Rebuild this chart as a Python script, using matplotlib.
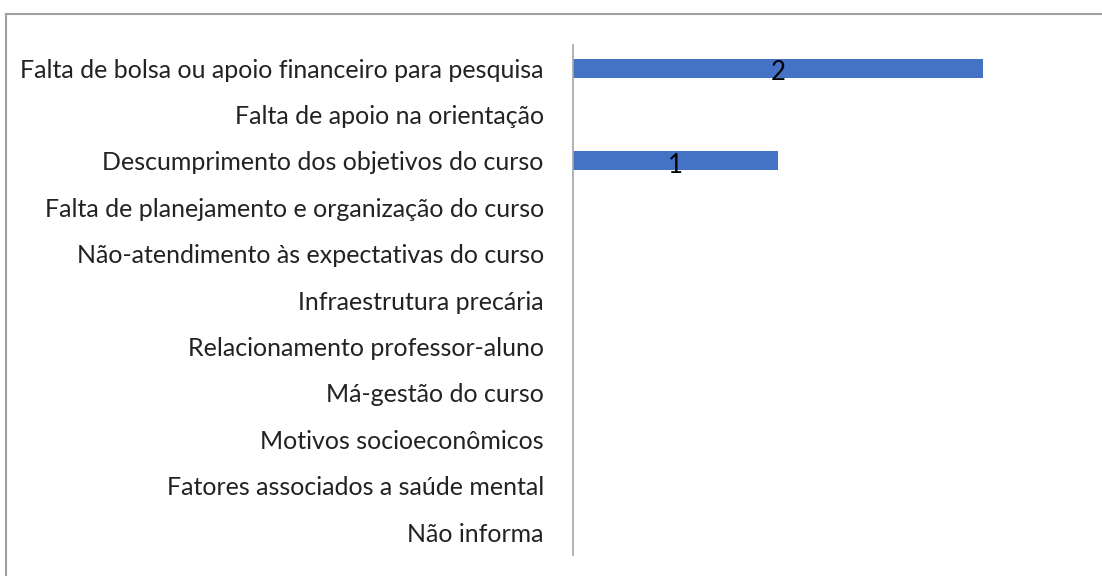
import matplotlib.pyplot as plt
from matplotlib.lines import Line2D

motivos = [
    "Falta de bolsa ou apoio financeiro para pesquisa",
    "Falta de apoio na orientação",
    "Descumprimento dos objetivos do curso",
    "Falta de planejamento e organização do curso",
    "Não-atendimento às expectativas do curso",
    "Infraestrutura precária",
    "Relacionamento professor-aluno",
    "Má-gestão do curso",
    "Motivos socioeconômicos",
    "Fatores associados a saúde mental",
    "Não informa",
]
respostas = [2, 0, 1, 0, 0, 0, 0, 0, 0, 0, 0]

plt.rcParams['font.family'] = ['Lato', 'DejaVu Sans']

fig = plt.figure(figsize=(11.02, 5.76), dpi=100)
ax = fig.add_axes([0.52, 0.036, 0.465, 0.886])

pos = list(range(len(motivos)))
bars = ax.barh(pos, respostas, height=0.41, color='#4472C4')
ax.set_ylim(len(motivos) - 0.5, -0.5)
ax.set_xlim(0, 2.5)

# rótulos de valor no centro de cada barra, um pouco abaixo do meio
for b, v in zip(bars, respostas):
    if v:
        ax.annotate(str(v), (b.get_width() / 2, b.get_y() + b.get_height() / 2),
                    xytext=(0, -3), textcoords='offset points',
                    ha='center', va='center', fontsize=18.5, color='black')

ax.set_yticks(pos)
ax.set_yticklabels(motivos, fontsize=18, color='#222222')
ax.tick_params(axis='y', length=0, pad=21)
ax.set_xticks([])
for s in ['top', 'right', 'bottom']:
    ax.spines[s].set_visible(False)
ax.spines['left'].set_color('#A6A6A6')
ax.spines['left'].set_linewidth(1.2)

# moldura do gráfico (topo e lado esquerdo)
fig.add_artist(Line2D([0.0055, 1.0], [0.975, 0.975], color='#A0A0A0', lw=1.5,
                      transform=fig.transFigure))
fig.add_artist(Line2D([0.0055, 0.0055], [0.0, 0.975], color='#A0A0A0', lw=1.5,
                      transform=fig.transFigure))

fig.savefig('out.png', dpi=100, facecolor='white')
